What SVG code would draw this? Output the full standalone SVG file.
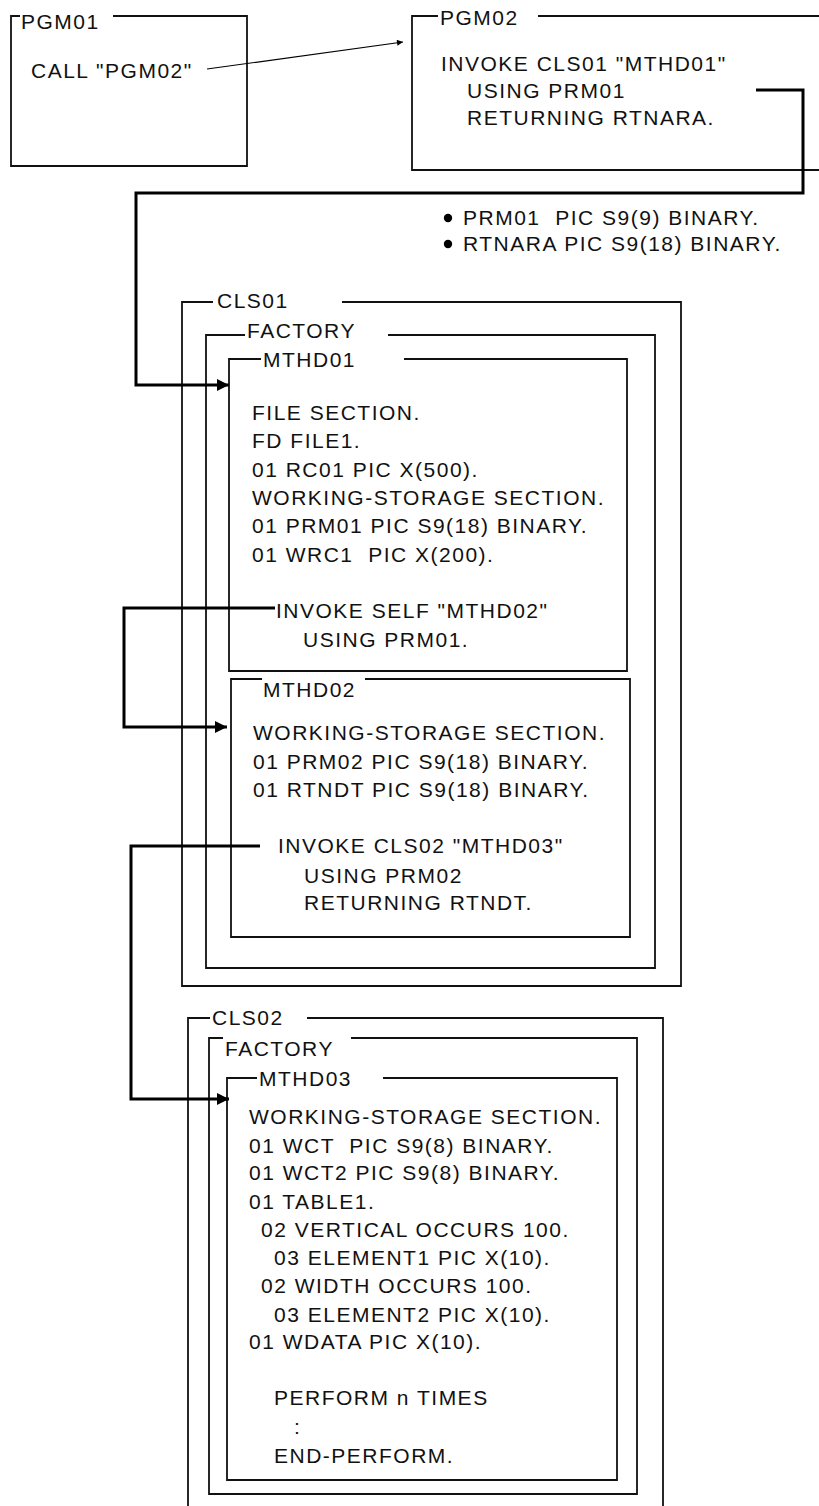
<svg xmlns="http://www.w3.org/2000/svg" width="819" height="1506" viewBox="0 0 819 1506">
<defs>
<style>
text{font-family:"Liberation Sans",Arial,sans-serif;font-size:21px;letter-spacing:1.5px;fill:#111;white-space:pre}
.box{fill:none;stroke:#111;stroke-width:1.8}
.conn{fill:none;stroke:#000;stroke-width:3}
.thin{fill:none;stroke:#000;stroke-width:1.2}
</style>
<marker id="ah" viewBox="0 0 10 10" refX="10" refY="5" markerWidth="14" markerHeight="12" markerUnits="userSpaceOnUse" orient="auto"><path d="M0,0 L10,5 L0,10 z" fill="#000"/></marker>
<marker id="ahs" viewBox="0 0 10 10" refX="10" refY="5" markerWidth="7" markerHeight="6" markerUnits="userSpaceOnUse" orient="auto"><path d="M0,0 L10,5 L0,10 z" fill="#000"/></marker>
</defs>
<rect width="819" height="1506" fill="#fff"/>

<g id="PGM01">
<path class="box" d="M20,16 H11 V166 H247 V16 H113"/>
<text x="21" y="29">PGM01</text>
<text x="31" y="78">CALL "PGM02"</text>
</g>

<g id="PGM02">
<path class="box" d="M438,16 H412 V170 H820 M538,16 H820"/>
<text x="440" y="25">PGM02</text>
<text x="441" y="71">INVOKE CLS01 "MTHD01"</text>
<text x="467" y="98">USING PRM01</text>
<text x="467" y="125">RETURNING RTNARA.</text>
</g>

<g id="params">
<circle cx="448" cy="218" r="4.2" fill="#000"/>
<text x="463" y="225">PRM01  PIC S9(9) BINARY.</text>
<circle cx="448" cy="244" r="4.2" fill="#000"/>
<text x="463" y="251">RTNARA PIC S9(18) BINARY.</text>
</g>

<g id="CLS01">
<path class="box" d="M213,302 H182 V986 H681 V302 H342"/>
<text x="217" y="308">CLS01</text>
</g>

<g id="FACTORY1">
<path class="box" d="M245,335 H206 V968 H655 V335 H388"/>
<text x="247" y="338">FACTORY</text>
</g>

<g id="MTHD01">
<path class="box" d="M261,359 H229 V671 H627 V359 H404"/>
<text x="263" y="367">MTHD01</text>
<text x="252" y="420">FILE SECTION.</text>
<text x="252" y="448">FD FILE1.</text>
<text x="252" y="477">01 RC01 PIC X(500).</text>
<text x="252" y="505">WORKING-STORAGE SECTION.</text>
<text x="252" y="533">01 PRM01 PIC S9(18) BINARY.</text>
<text x="252" y="562">01 WRC1  PIC X(200).</text>
<text x="276" y="618">INVOKE SELF "MTHD02"</text>
<text x="303" y="647">USING PRM01.</text>
</g>

<g id="MTHD02">
<path class="box" d="M262,679 H231 V937 H630 V679 H365"/>
<text x="263" y="697">MTHD02</text>
<text x="253" y="740">WORKING-STORAGE SECTION.</text>
<text x="253" y="769">01 PRM02 PIC S9(18) BINARY.</text>
<text x="253" y="797">01 RTNDT PIC S9(18) BINARY.</text>
<text x="278" y="853">INVOKE CLS02 "MTHD03"</text>
<text x="304" y="883">USING PRM02</text>
<text x="304" y="910">RETURNING RTNDT.</text>
</g>

<g id="CLS02">
<path class="box" d="M210,1018 H188 V1510 M307,1018 H663 V1510"/>
<text x="212" y="1025">CLS02</text>
</g>

<g id="FACTORY2">
<path class="box" d="M223,1038 H209 V1494 H637 V1038 H351"/>
<text x="225" y="1056">FACTORY</text>
</g>

<g id="MTHD03">
<path class="box" d="M257,1078 H227 V1480 H617 V1078 H383"/>
<text x="259" y="1086">MTHD03</text>
<text x="249" y="1124">WORKING-STORAGE SECTION.</text>
<text x="249" y="1153">01 WCT  PIC S9(8) BINARY.</text>
<text x="249" y="1180">01 WCT2 PIC S9(8) BINARY.</text>
<text x="249" y="1209">01 TABLE1.</text>
<text x="261" y="1237">02 VERTICAL OCCURS 100.</text>
<text x="274" y="1265">03 ELEMENT1 PIC X(10).</text>
<text x="261" y="1293">02 WIDTH OCCURS 100.</text>
<text x="274" y="1322">03 ELEMENT2 PIC X(10).</text>
<text x="249" y="1349">01 WDATA PIC X(10).</text>
<text x="274" y="1405">PERFORM n TIMES</text>
<text x="294" y="1434">:</text>
<text x="274" y="1463">END-PERFORM.</text>
</g>

<g id="connectors">
<path class="thin" d="M207,69 L403,42" marker-end="url(#ahs)"/>
<path class="conn" d="M756,90 H803 V193 H136 V385 H229" marker-end="url(#ah)"/>
<path class="conn" d="M275,608 H124 V727 H227" marker-end="url(#ah)"/>
<path class="conn" d="M260,846 H131 V1099 H229" marker-end="url(#ah)"/>
</g>
</svg>
